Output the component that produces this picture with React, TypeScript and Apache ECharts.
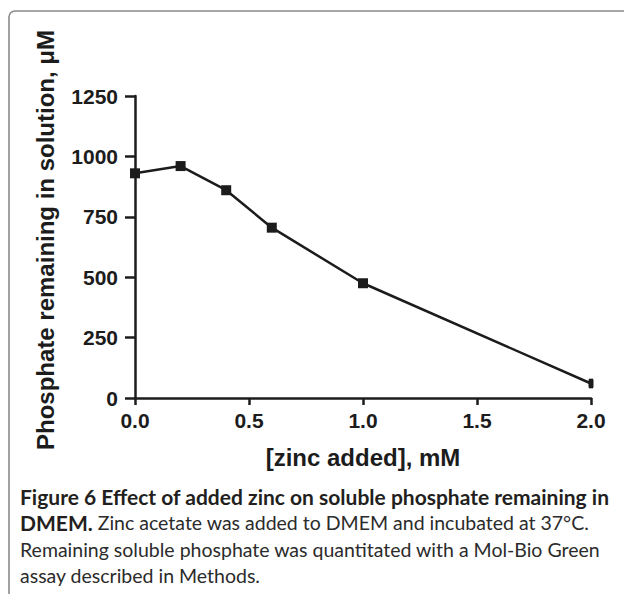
import React, { useEffect, useRef } from "react";
import * as echarts from "echarts";

const doses = [0, 0.2, 0.4, 0.6, 1.0, 2.0];
const phosphate = [930, 960, 860, 705, 475, 60];
const errors = [10, 10, 10, 10, 10, 20];
const xTicks = [0, 0.5, 1.0, 1.5, 2.0];
const yTicks = [0, 250, 500, 750, 1000, 1250];

const yTitle = "Phosphate remaining in solution, μM";
const xTitle = "[zinc added], mM";
const captionLines = [
  "{b|Figure 6 Effect of added zinc on soluble phosphate remaining in}",
  "{b|DMEM.}{r| Zinc acetate was added to DMEM and incubated at 37°C.}",
  "{r|Remaining soluble phosphate was quantitated with a Mol-Bio Green}",
  "{r|assay described in Methods.}",
];

const AXIS_FONT = "'Liberation Sans', Arial, sans-serif";
const CAPTION_FONT = "Lato, 'Noto Sans', sans-serif";
const INK = "#1c1c1c";

export default function App() {
  const ref = useRef<HTMLDivElement>(null);
  useEffect(() => {
    if (!ref.current) return;
    const chart = echarts.init(ref.current, undefined, { renderer: "svg" });
    const points = doses.map((d, i) => [d, phosphate[i]]);
    const errData = doses.map((d, i) => [d, phosphate[i] - errors[i], phosphate[i] + errors[i]]);
    const rich = {
      b: { fontFamily: CAPTION_FONT, fontWeight: "bold" as const, fontSize: 21, fill: "#231f20" },
      r: { fontFamily: CAPTION_FONT, fontWeight: "normal" as const, fontSize: 19.5, fill: "#2b2b2b" },
    };
    chart.setOption({
      animation: false,
      backgroundColor: "#ffffff",
      grid: { left: 135, top: 96, right: 33, bottom: 196, containLabel: false },
      xAxis: {
        type: "value",
        min: 0,
        max: 2,
        interval: 0.5,
        name: xTitle,
        nameLocation: "middle",
        nameGap: 47,
        nameTextStyle: { fontFamily: AXIS_FONT, fontWeight: "bold", fontSize: 24, color: INK },
        axisLine: { show: true, onZero: false, lineStyle: { color: INK, width: 2.5 } },
        axisTick: { show: true, length: 7, lineStyle: { color: INK, width: 2.5 } },
        axisLabel: {
          margin: 12,
          fontFamily: AXIS_FONT,
          fontWeight: "bold",
          fontSize: 21,
          color: INK,
          formatter: (v: number) => (xTicks.includes(v) ? v.toFixed(1) : ""),
        },
        splitLine: { show: false },
      },
      yAxis: {
        type: "value",
        min: 0,
        max: 1250,
        interval: 250,
        axisLine: { show: true, onZero: false, lineStyle: { color: INK, width: 2.5 } },
        axisTick: { show: true, length: 10, lineStyle: { color: INK, width: 2.5 } },
        axisLabel: {
          margin: 17,
          fontFamily: AXIS_FONT,
          fontWeight: "bold",
          fontSize: 21,
          color: INK,
          formatter: (v: number) => (yTicks.includes(v) ? String(v) : ""),
        },
        splitLine: { show: false },
      },
      series: [
        {
          type: "custom",
          data: errData,
          z: 1,
          renderItem: (params: any, api: any) => {
            const x = api.value(0);
            const lo = api.coord([x, api.value(1)]);
            const hi = api.coord([x, api.value(2)]);
            return {
              type: "line",
              shape: { x1: lo[0], y1: lo[1], x2: hi[0], y2: hi[1] },
              style: { stroke: INK, lineWidth: 4 },
            };
          },
        },
        {
          type: "line",
          data: points.map((p, i) =>
            i === points.length - 1
              ? { value: p, symbolSize: [5, 8] }
              : { value: p }
          ),
          z: 2,
          symbol: "rect",
          symbolSize: 10,
          showSymbol: true,
          lineStyle: { color: INK, width: 2.5 },
          itemStyle: { color: INK },
        },
      ],
      graphic: [
        {
          type: "rect",
          shape: { x: 9, y: 11, width: 800, height: 800, r: 6 },
          style: { fill: "none", stroke: "#8a8a8a", lineWidth: 1.6 },
          silent: true,
          z: -1,
        },
        {
          type: "text",
          x: 45,
          y: 240,
          rotation: Math.PI / 2,
          style: {
            text: yTitle,
            fontFamily: AXIS_FONT,
            fontWeight: "bold",
            fontSize: 24,
            fill: INK,
            align: "center",
            verticalAlign: "middle",
          },
        },
        ...captionLines.map((line, i) => ({
          type: "text",
          x: 20,
          y: 496 + i * 26.5,
          style: {
            text: line,
            rich,
            align: "left",
            verticalAlign: "middle",
          },
        })),
      ],
    });
    return () => chart.dispose();
  }, []);
  return (
    <div
      ref={ref}
      style={{ position: "absolute", left: 0, top: 0, width: 624, height: 594 }}
    />
  );
}
